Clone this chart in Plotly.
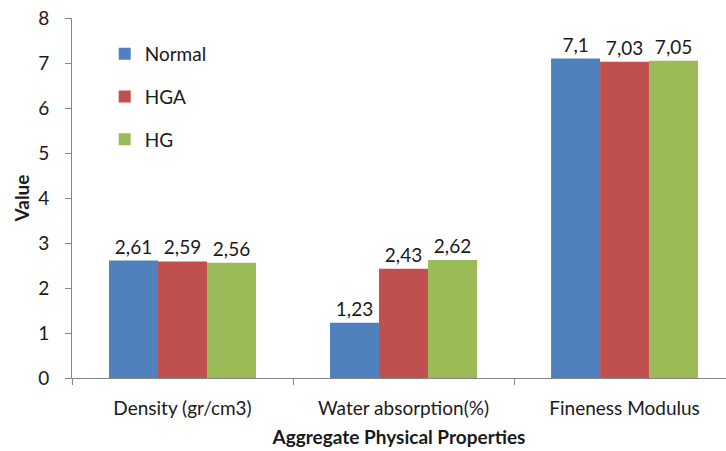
import plotly.graph_objects as go

categories = ["Density (gr/cm3)", "Water absorption(%)", "Fineness Modulus"]
series_names = ["Normal", "HGA", "HG"]
normal = [2.61, 1.23, 7.1]
hga = [2.59, 2.43, 7.03]
hg = [2.56, 2.62, 7.05]
labels_normal = ["2,61", "1,23", "7,1"]
labels_hga = ["2,59", "2,43", "7,03"]
labels_hg = ["2,56", "2,62", "7,05"]
colors = ["#4F81BD", "#C0504D", "#9BBB59"]

FONT = "Lato"
FS = 19
fig = go.Figure()
for name, vals, labs, col in zip(series_names, [normal, hga, hg],
                                 [labels_normal, labels_hga, labels_hg], colors):
    fig.add_trace(go.Bar(
        x=categories, y=vals, name=name, text=labs,
        textposition="outside", cliponaxis=False,
        textfont=dict(family=FONT, size=FS, color="#1a1a1a"),
        marker=dict(color=col, line=dict(width=0)),
        legendgroup=name,
    ))

fig.update_layout(
    width=726, height=451,
    margin=dict(l=72, r=0, t=18, b=73),
    paper_bgcolor="white", plot_bgcolor="white",
    barmode="group", bargap=0.335, bargroupgap=0,
    font=dict(family=FONT, size=FS, color="#1a1a1a"),
    showlegend=True,
    legend=dict(x=0.05, y=0.953, xanchor="left", yanchor="top",
                bgcolor="rgba(0,0,0,0)", traceorder="grouped",
                tracegroupgap=15, itemwidth=30,
                font=dict(family=FONT, size=FS)),
    xaxis=dict(
        range=[-0.5, 2.459], showline=True, linecolor="#868686", linewidth=1,
        ticks="outside", tickson="boundaries", ticklen=6, tickcolor="#868686",
        showgrid=False, zeroline=False, ticklabelstandoff=13,
        tickfont=dict(family=FONT, size=FS),
        title=dict(text="<b>Aggregate Physical Properties</b>", standoff=12,
                   font=dict(family=FONT, size=FS)),
    ),
    yaxis=dict(
        range=[0, 8], dtick=1, showline=True, linecolor="#868686", linewidth=1,
        ticks="outside", ticklen=6, tickcolor="#868686",
        showgrid=False, zeroline=False, ticklabelstandoff=12,
        tickfont=dict(family=FONT, size=FS),
        title=dict(text="<b>Value</b>", standoff=3,
                   font=dict(family=FONT, size=FS)),
    ),
)

fig.write_html("out.html")
